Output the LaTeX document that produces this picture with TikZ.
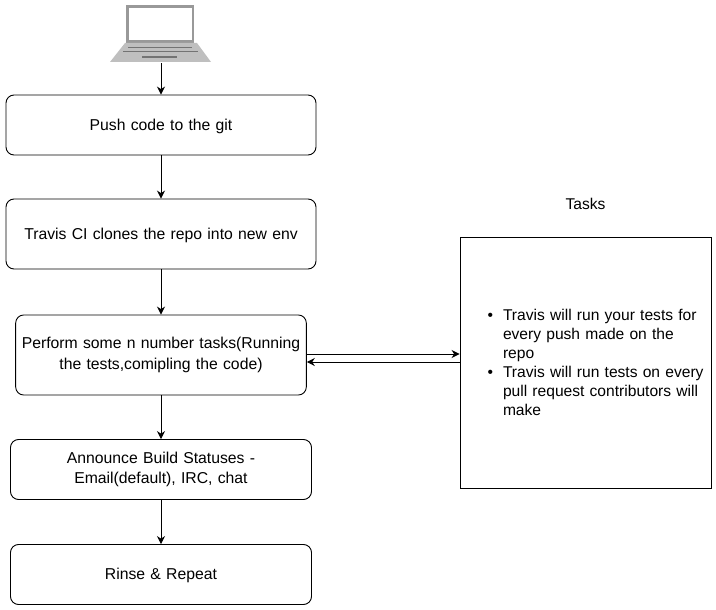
\documentclass[tikz,border=0pt]{standalone}
\usepackage{fontspec}
\setmainfont{Liberation Sans}
\usepackage{tikz}
\usetikzlibrary{arrows, arrows.meta}
\tikzstyle{flowbox} = [rectangle, rounded corners=8pt, minimum width=310pt, minimum height=60pt, text width=296pt, align=center, draw=black, line width=0.9pt, font=\fontsize{15.75}{23}\selectfont, execute at begin node={\vspace{-2.5pt}}]
\tikzstyle{taskbox} = [rectangle, minimum width=251pt, minimum height=251pt, text width=237pt, inner sep=7pt, draw=black, line width=0.9pt, font=\fontsize{15.6}{19}\selectfont]
\tikzstyle{arrow} = [line width=0.9pt,-{Stealth[length=8pt,width=8pt]}]

\begin{document}
\begin{tikzpicture}[x=1pt, y=1pt, node distance=110pt]
	\useasboundingbox (0,0) rectangle (716,-610);

	% Laptop
	\node (laptop) [minimum width=102pt, minimum height=58pt, inner sep=0pt] at (161,-34) {};
	\fill [gray!80] (126,-5) rectangle (194,-43);
	\fill [white] (129,-8) rectangle (192,-40);
	\fill [gray!50] (125,-43) -- (197,-43) -- (211,-62) -- (110,-62) -- cycle;
	\draw [gray!90!black, line width=1pt] (128,-48) -- (192,-48);
	\draw [gray!90!black, line width=1pt] (123,-52) -- (198,-52);
	\draw [gray!90!black, line width=1.5pt] (142,-57) -- (177,-57);

	% Nodes for main flow
	\node (push) [flowbox] at (161,-125) {Push code to the git};
	\node (clone) [flowbox, below of=push, yshift=1pt, minimum height=70pt] {Travis CI clones the repo into new env};
	\node (perform) [flowbox, below of=clone, yshift=-11pt, minimum width=290pt, minimum height=80pt, text width=284pt] {Perform some n number tasks(Running\\the tests,comipling the code)};
	\node (announce) [flowbox, below of=perform, yshift=-4.5pt, minimum width=301pt, text width=287pt] {Announce Build Statuses -\\Email(default), IRC, chat};
	\node (rinse) [flowbox, below of=announce, yshift=5pt, minimum width=301pt, text width=287pt] {Rinse \& Repeat};

	% Nodes for tasks
	\node (tasks) [taskbox] at (585.5,-362.5) {%
		\vspace{-8pt}
		\begin{list}{\textbullet}{\leftmargin=36pt \labelsep=10pt \labelwidth=26pt \topsep=0pt \partopsep=0pt \parsep=0pt \itemsep=0pt \rightmargin=0pt}
			\item Travis will run your tests for\newline every push made on the\newline repo
			\item Travis will run tests on every\newline pull request contributors will\newline make
		\end{list}};
	\node (taskstitle) [above of=tasks, yshift=48.5pt, font=\fontsize{15.6}{20}\selectfont] {Tasks};

	% Arrows for main flow
	\draw [arrow] (laptop) -- (push);
	\draw [arrow] (push) -- (clone);
	\draw [arrow] (clone) -- (perform);
	\draw [arrow] (perform) -- (announce);
	\draw [arrow] (announce) -- (rinse);

	% Arrows to and from tasks
	\draw [arrow] ([yshift=1pt]perform.east) -- ([yshift=8.5pt]tasks.west);
	\draw [arrow] ([yshift=0.5pt]tasks.west) -- ([yshift=-7pt]perform.east);
\end{tikzpicture}
\end{document}
